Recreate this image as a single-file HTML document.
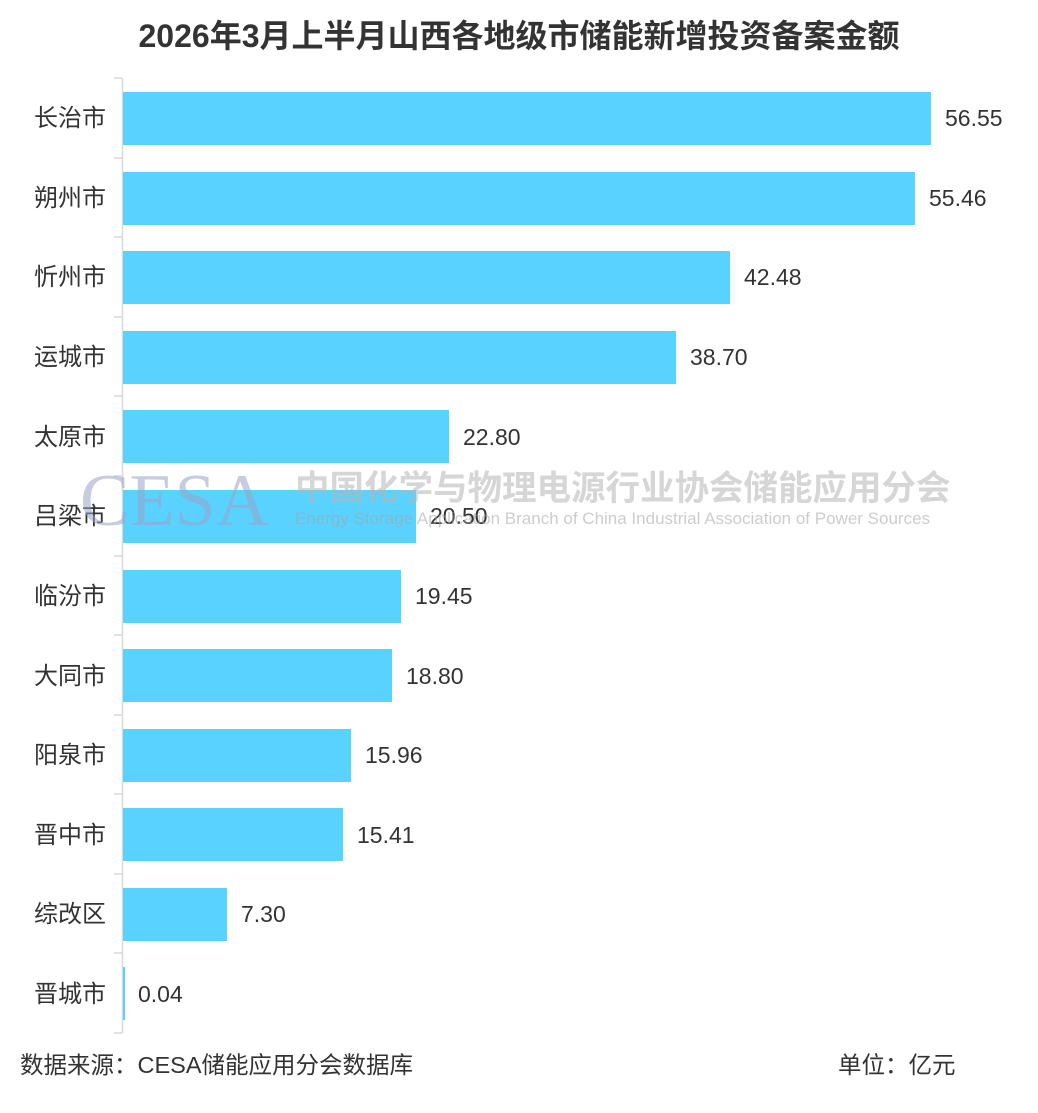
<!DOCTYPE html>
<html><head><meta charset="utf-8"><style>
body{margin:0;background:#fff;}
svg text{font-family:"Liberation Sans","Noto Sans CJK SC",sans-serif;}
</style></head><body>
<svg width="1038" height="1108" xmlns="http://www.w3.org/2000/svg">
<rect width="1038" height="1108" fill="#fff"/>
<text x="519" y="47" text-anchor="middle" font-size="32" font-weight="bold" fill="#333">2026年3月上半月山西各地级市储能新增投资备案金额</text>
<line x1="122.5" y1="78" x2="122.5" y2="1033" stroke="#d9d9d9" stroke-width="1.5"/>
<g stroke="#d9d9d9" stroke-width="1.5">
<line x1="114" y1="78" x2="122" y2="78"/><line x1="114" y1="158" x2="122" y2="158"/><line x1="114" y1="237" x2="122" y2="237"/><line x1="114" y1="317" x2="122" y2="317"/><line x1="114" y1="396" x2="122" y2="396"/><line x1="114" y1="476" x2="122" y2="476"/><line x1="114" y1="556" x2="122" y2="556"/><line x1="114" y1="635" x2="122" y2="635"/><line x1="114" y1="715" x2="122" y2="715"/><line x1="114" y1="794" x2="122" y2="794"/><line x1="114" y1="874" x2="122" y2="874"/><line x1="114" y1="953" x2="122" y2="953"/><line x1="114" y1="1033" x2="122" y2="1033"/>
</g>
<g font-size="23" fill="#333">
<rect x="123" y="92" width="808" height="53" fill="#5ad2ff"/><text x="106" y="126" text-anchor="end" font-size="24">长治市</text><text x="945" y="126">56.55</text>
<rect x="123" y="172" width="792" height="53" fill="#5ad2ff"/><text x="106" y="206" text-anchor="end" font-size="24">朔州市</text><text x="929" y="206">55.46</text>
<rect x="123" y="251" width="607" height="53" fill="#5ad2ff"/><text x="106" y="285" text-anchor="end" font-size="24">忻州市</text><text x="744" y="285">42.48</text>
<rect x="123" y="331" width="553" height="53" fill="#5ad2ff"/><text x="106" y="365" text-anchor="end" font-size="24">运城市</text><text x="690" y="365">38.70</text>
<rect x="123" y="410" width="326" height="53" fill="#5ad2ff"/><text x="106" y="445" text-anchor="end" font-size="24">太原市</text><text x="463" y="445">22.80</text>
<rect x="123" y="490" width="293" height="53" fill="#5ad2ff"/><text x="106" y="524" text-anchor="end" font-size="24">吕梁市</text><text x="430" y="524">20.50</text>
<rect x="123" y="570" width="278" height="53" fill="#5ad2ff"/><text x="106" y="604" text-anchor="end" font-size="24">临汾市</text><text x="415" y="604">19.45</text>
<rect x="123" y="649" width="269" height="53" fill="#5ad2ff"/><text x="106" y="684" text-anchor="end" font-size="24">大同市</text><text x="406" y="684">18.80</text>
<rect x="123" y="729" width="228" height="53" fill="#5ad2ff"/><text x="106" y="763" text-anchor="end" font-size="24">阳泉市</text><text x="365" y="763">15.96</text>
<rect x="123" y="808" width="220" height="53" fill="#5ad2ff"/><text x="106" y="843" text-anchor="end" font-size="24">晋中市</text><text x="357" y="843">15.41</text>
<rect x="123" y="888" width="104" height="53" fill="#5ad2ff"/><text x="106" y="922" text-anchor="end" font-size="24">综改区</text><text x="241" y="922">7.30</text>
<rect x="123" y="967" width="2" height="53" fill="#5ad2ff"/><text x="106" y="1002" text-anchor="end" font-size="24">晋城市</text><text x="138" y="1002">0.04</text>
</g>
<g opacity="0.55">
<text x="80" y="525" style="font-family:'Liberation Serif',serif" font-size="74" fill="#9aa3c8">CESA</text>
<text x="295" y="500" font-size="34.5" font-weight="bold" fill="#b5b5b5">中国化学与物理电源行业协会储能应用分会</text>
<text x="295" y="524" font-size="17" fill="#a5a5a5">Energy Storage Application Branch of China Industrial Association of Power Sources</text>
</g>
<text x="20" y="1073" font-size="23.5" fill="#333">数据来源：CESA储能应用分会数据库</text>
<text x="838" y="1073" font-size="23.5" fill="#333">单位：亿元</text>
</svg>
</body></html>
